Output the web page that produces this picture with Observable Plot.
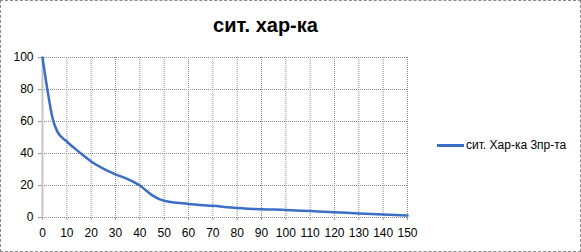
<!DOCTYPE html>
<html>
<head>
<meta charset="utf-8">
<script src="https://cdn.jsdelivr.net/npm/d3@7"></script>
<script src="https://cdn.jsdelivr.net/npm/@observablehq/plot@0.6"></script>
<style>
  html, body { margin: 0; padding: 0; background: #fff; }
  #wrap { position: relative; width: 581px; height: 252px; font-family: "Liberation Sans", Arial, sans-serif; }
  #border { position: absolute; left: 0; top: 0; width: 581px; height: 252px; box-sizing: border-box; border: 1px dashed #8a8a8a; pointer-events: none; }
  #title { position: absolute; left: 0; top: 14px; width: 531px; text-align: center; font-size: 20px; font-weight: bold; color: #000; }
  #legend { position: absolute; left: 437px; top: 138px; font-size: 12px; color: #000; display: flex; align-items: center; white-space: nowrap; }
  #legend .sw { display: inline-block; width: 27px; height: 3px; background: #3a6fc4; margin-right: 2px; }
</style>
</head>
<body>
<div id="wrap">
  <div id="chart"></div>
  <div id="title">сит. хар-ка</div>
  <div id="legend"><span class="sw"></span><span>сит. Хар-ка 3пр-та</span></div>
  <div id="border"></div>
</div>
<script>
const seriesName = "сит. Хар-ка 3пр-та";
const xValues = [0, 2, 4, 6, 10, 15, 20, 25, 30, 35, 40, 45, 48, 50, 60, 70, 80, 90, 100, 110, 120, 130, 140, 150];
const yValues = [100, 80, 63, 54, 47.5, 41, 35, 30.5, 27, 24, 20, 14, 11.5, 10.5, 8.5, 7.3, 6, 5.2, 4.7, 4, 3.3, 2.5, 1.8, 1.2];
const xTicks = d3.range(0, 151, 10);
const yTicks = [0, 20, 40, 60, 80, 100];

const data = xValues.map((x, i) => ({x, y: yValues[i]}));

const chart = Plot.plot({
  width: 581,
  height: 252,
  marginLeft: 42,
  marginRight: 174,
  marginTop: 57,
  marginBottom: 35,
  style: {fontFamily: "Liberation Sans, Arial, sans-serif", fontSize: "12px", color: "#000", background: "transparent"},
  x: {domain: [0, 150], ticks: xTicks, label: null},
  y: {domain: [0, 100], ticks: yTicks, label: null},
  marks: [
    Plot.gridX(xTicks, {stroke: "#8c8c8c", strokeOpacity: 1, strokeDasharray: "1,1"}),
    Plot.gridY(yTicks, {stroke: "#8c8c8c", strokeOpacity: 1, strokeDasharray: "1,1"}),
    Plot.ruleX([0], {stroke: "#c4c4c4", strokeWidth: 2}),
    Plot.axisX(xTicks, {tickSize: 3, stroke: "#9a9a9a", tickPadding: 8, fill: "#000"}),
    Plot.axisY(yTicks, {tickSize: 4, stroke: "#9a9a9a", tickPadding: 5, fill: "#000"}),
    Plot.line(data, {x: "x", y: "y", stroke: "#3a6fc4", strokeWidth: 2.5, curve: "monotone-x"})
  ]
});
document.getElementById("chart").appendChild(chart);
</script>
</body>
</html>
